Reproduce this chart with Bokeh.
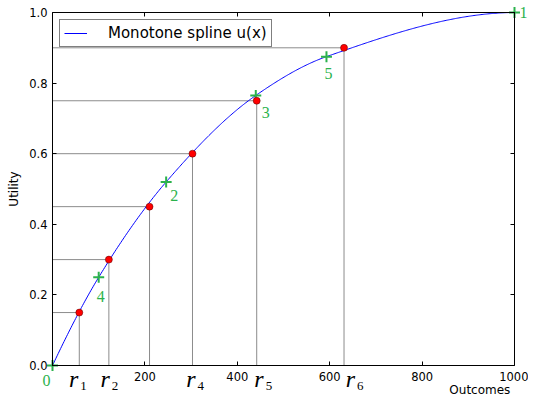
import numpy as np
from bokeh.plotting import figure
from bokeh.models import (ColumnDataSource, LinearAxis, FixedTicker, LabelSet,
                          Label, Range1d)
from bokeh.embed import file_html
from bokeh.resources import INLINE

# ---------------- data ----------------
# elicited points (green crosses), knots of the monotone spline
knot_x = [0, 100, 246, 440, 593, 1000]
knot_u = [0.0, 0.25, 0.52, 0.765, 0.875, 1.0]
knot_labels = ["0", "4", "2", "3", "5", "1"]

# r_i points (red dots)
r_x = [58, 122, 210, 303, 442, 631]
r_u = [0.15, 0.30, 0.45, 0.60, 0.75, 0.90]
r_main = ["r", "r", "", "r", "r", "r"]
r_subs = ["1", "2", "", "4", "5", "6"]

x_ticks = [0, 200, 400, 600, 800, 1000]
x_tick_labels = ["", "200", "400", "600", "800", "1000"]
y_ticks = [0.0, 0.2, 0.4, 0.6, 0.8, 1.0]
y_tick_labels = ["0.0", "0.2", "0.4", "0.6", "0.8", "1.0"]

legend_text = "Monotone spline u(x)"
x_title = "Outcomes"
y_title = "Utility"

# ---------------- layout / style ----------------
W, H = 528, 397
PX_LEFT, PX_RIGHT, PX_TOP, PX_BOTTOM = 52, 514, 12, 365
GREEN = "#2bb24c"
GRAY = "#8c8c8c"
knot_dx = [-10, -2, 4, 6, -2, 5]
knot_dy = [-15, -19, -14, -17, -17, 0]
r_label_dx = [-1, 1, 0, 3, 7, 11]
LEGEND_TOP, LEGEND_H = 20, 27

X0, X1 = 0.0, 1000.0
U0, U1 = 0.0, 1.0
xppu = (PX_RIGHT - PX_LEFT) / (X1 - X0)
yppu = (PX_BOTTOM - PX_TOP) / (U1 - U0)
x_start = X0 - PX_LEFT / xppu
x_end = X1 + (W - PX_RIGHT) / xppu
y_start = U0 - (H - PX_BOTTOM) / yppu
y_end = U1 + PX_TOP / yppu


def pchip(xk, yk, xs):
    xk = np.asarray(xk, float)
    yk = np.asarray(yk, float)
    h = np.diff(xk)
    d = np.diff(yk) / h
    n = len(xk)
    m = np.zeros(n)
    for k in range(1, n - 1):
        if d[k - 1] * d[k] > 0:
            w1 = 2 * h[k] + h[k - 1]
            w2 = h[k] + 2 * h[k - 1]
            m[k] = (w1 + w2) / (w1 / d[k - 1] + w2 / d[k])

    def end(h0, h1, d0, d1):
        mm = ((2 * h0 + h1) * d0 - h0 * d1) / (h0 + h1)
        if np.sign(mm) != np.sign(d0):
            mm = 0.0
        elif np.sign(d0) != np.sign(d1) and abs(mm) > abs(3 * d0):
            mm = 3 * d0
        return mm

    m[0] = end(h[0], h[1], d[0], d[1])
    m[-1] = end(h[-1], h[-2], d[-1], d[-2])
    idx = np.clip(np.searchsorted(xk, xs, side="right") - 1, 0, n - 2)
    t = (xs - xk[idx]) / h[idx]
    h00 = 2 * t**3 - 3 * t**2 + 1
    h10 = t**3 - 2 * t**2 + t
    h01 = -2 * t**3 + 3 * t**2
    h11 = t**3 - t**2
    return (h00 * yk[idx] + h10 * h[idx] * m[idx]
            + h01 * yk[idx + 1] + h11 * h[idx] * m[idx + 1])


xs = np.linspace(knot_x[0], knot_x[-1], 400)
us = pchip(knot_x, knot_u, xs)

p = figure(width=W, height=H, x_range=Range1d(x_start, x_end),
           y_range=Range1d(y_start, y_end),
           x_axis_location=None, y_axis_location=None,
           output_backend="svg", toolbar_location=None,
           min_border=0)
p.background_fill_color = "white"
p.border_fill_color = "white"
p.outline_line_color = None
p.grid.visible = False


def style_axis(ax):
    ax.major_tick_in = 4
    ax.major_tick_out = 0
    ax.minor_tick_line_color = None
    ax.axis_line_color = "black"
    ax.axis_line_width = 1
    ax.major_tick_line_color = "black"
    ax.major_label_text_font = "DejaVu Sans"
    ax.major_label_text_font_size = "11.5px"
    ax.major_label_text_color = "black"
    ax.axis_label_text_font = "DejaVu Sans"
    ax.axis_label_text_font_style = "normal"
    ax.axis_label_text_font_size = "12px"
    ax.axis_label_text_color = "black"


xb = LinearAxis(ticker=FixedTicker(ticks=x_ticks), fixed_location=U0, bounds=(X0, X1),
                major_label_overrides={t: l for t, l in zip(x_ticks, x_tick_labels)})
style_axis(xb)
xb.major_label_standoff = 6
p.add_layout(xb, "below")

yl = LinearAxis(ticker=FixedTicker(ticks=y_ticks), fixed_location=X0, bounds=(U0, U1),
                major_label_overrides={t: l for t, l in zip(y_ticks, y_tick_labels)},
                axis_label=y_title)
style_axis(yl)
yl.major_label_standoff = 5
yl.axis_label_standoff = 5
p.add_layout(yl, "left")

xt = LinearAxis(ticker=FixedTicker(ticks=x_ticks), fixed_location=U1, bounds=(X0, X1),
                major_label_overrides={t: "" for t in x_ticks})
style_axis(xt)
p.add_layout(xt, "above")

yr = LinearAxis(ticker=FixedTicker(ticks=y_ticks), fixed_location=X1, bounds=(U0, U1),
                major_label_overrides={t: "" for t in y_ticks})
style_axis(yr)
p.add_layout(yr, "right")

# gray guide lines from red points to axes
zeros = [0] * len(r_x)
p.segment(x0=zeros, y0=r_u, x1=r_x, y1=r_u, line_color=GRAY, line_width=1)
p.segment(x0=r_x, y0=zeros, x1=r_x, y1=r_u, line_color=GRAY, line_width=1)

# spline
p.line(xs, us, line_color="#0000ff", line_width=1, legend_label=legend_text)

# green elicited points
ksrc = ColumnDataSource(dict(x=knot_x, u=knot_u, t=knot_labels, dx=knot_dx, dy=knot_dy))
p.scatter("x", "u", source=ksrc, marker="cross", size=11, line_width=2, line_color=GREEN)

# red points
p.scatter(r_x, r_u, size=7, fill_color="#ff0000", line_color="#550000", line_width=0.5)

p.add_layout(LabelSet(x="x", y="u", text="t", source=ksrc, x_offset="dx", y_offset="dy",
                      text_align="left", text_baseline="middle", text_color=GREEN,
                      text_font="DejaVu Sans", text_font_size="16px"))

rsrc = ColumnDataSource(dict(x=r_x, y=zeros, m=r_main, s=r_subs,
                             dxm=r_label_dx, dxs=[d + 2 for d in r_label_dx]))
p.add_layout(LabelSet(x="x", y="y", text="m", source=rsrc, x_offset="dxm", y_offset=-21,
                      text_align="right", text_baseline="alphabetic",
                      text_font="Liberation Serif", text_font_style="italic",
                      text_font_size="24px", text_color="black"))
p.add_layout(LabelSet(x="x", y="y", text="s", source=rsrc, x_offset="dxs", y_offset=-24,
                      text_align="left", text_baseline="alphabetic",
                      text_font="Liberation Serif", text_font_size="13px",
                      text_color="black"))

p.add_layout(Label(x=925, y=0, y_offset=-24, text=x_title, text_align="center",
                   text_baseline="alphabetic", text_font="DejaVu Sans",
                   text_font_size="12px", text_color="black"))

# legend
lg = p.legend[0]
lg.location = (PX_LEFT + 7, H - (LEGEND_TOP + LEGEND_H))
lg.margin = 0
lg.padding = 4
lg.spacing = 0
lg.glyph_width = 23
lg.glyph_height = 16
lg.label_height = 16
lg.label_standoff = 21
lg.label_text_font = "DejaVu Sans"
lg.label_text_font_size = "15px"
lg.label_text_color = "black"
lg.border_line_color = "black"
lg.border_line_width = 1
lg.background_fill_color = "white"
lg.background_fill_alpha = 1.0

open("out.html", "w").write(file_html(p, INLINE))
